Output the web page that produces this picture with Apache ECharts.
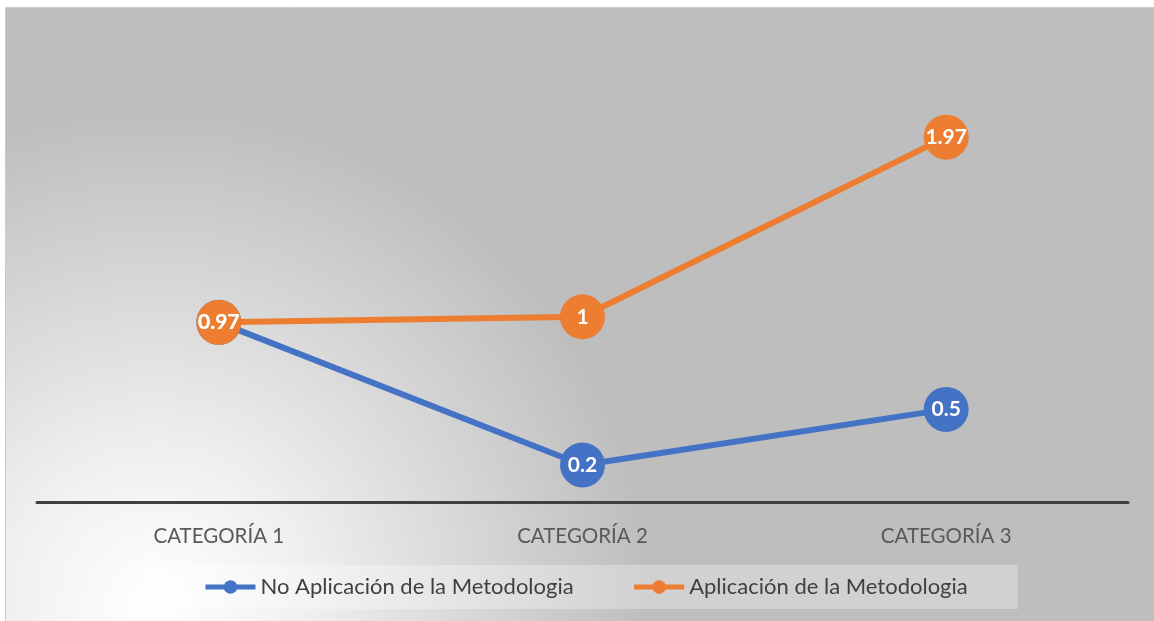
<!DOCTYPE html>
<html>
<head>
<meta charset="utf-8">
<script src="https://cdn.jsdelivr.net/npm/echarts@6/dist/echarts.min.js"></script>
<style>
  html, body { margin: 0; padding: 0; background: #ffffff; }
  #chart { width: 1154px; height: 621px; }
</style>
</head>
<body>
<div id="chart"></div>
<script>
let categories = ['CATEGORÍA 1', 'CATEGORÍA 2', 'CATEGORÍA 3'];
let noAplicacion = [0.97, 0.2, 0.5];
let aplicacion = [0.97, 1, 1.97];
let seriesNames = ['No Aplicación de la Metodologia', 'Aplicación de la Metodologia'];

let fontName = 'Lato, "Open Sans", sans-serif';

function lineSeries(name, data, color) {
    return {
        name: name,
        type: 'line',
        data: data,
        symbol: 'circle',
        symbolSize: 45,
        lineStyle: { color: color, width: 6 },
        itemStyle: { color: color },
        label: {
            show: true,
            position: 'inside',
            color: '#ffffff',
            fontWeight: 'bold',
            fontSize: 21,
            fontFamily: fontName
        },
        emphasis: { disabled: true },
        animation: false
    };
}

let option = {
    graphic: [
        {
            type: 'rect',
            left: 5,
            top: 7,
            z: -10,
            shape: { width: 1149, height: 614 },
            style: {
                fill: new echarts.graphic.RadialGradient(0.13, 0.97, 0.8, [
                    { offset: 0, color: '#ffffff' },
                    { offset: 0.3, color: '#f0f0f0' },
                    { offset: 1, color: '#bebebe' }
                ]),
                stroke: '#cccccc',
                lineWidth: 1
            }
        }
    ],
    legend: {
        left: 145,
        top: 565,
        padding: [11, 50, 11, 58],
        itemGap: 58,
        itemWidth: 50,
        itemHeight: 17,
        lineStyle: { width: 5 },
        backgroundColor: 'rgba(255,255,255,0.3)',
        textStyle: { color: '#404040', fontSize: 22, fontFamily: fontName },
        data: seriesNames
    },
    grid: { left: 37, right: 26, top: 39, bottom: 119 },
    xAxis: {
        type: 'category',
        data: categories,
        boundaryGap: true,
        axisLine: { lineStyle: { color: '#404040', width: 3 } },
        axisTick: { show: false },
        axisLabel: { color: '#595959', fontSize: 20.5, margin: 24, fontFamily: fontName }
    },
    yAxis: {
        type: 'value',
        min: 0,
        max: 2.5,
        show: false,
        splitLine: { show: false }
    },
    series: [
        lineSeries(seriesNames[0], noAplicacion, '#4472C4'),
        lineSeries(seriesNames[1], aplicacion, '#ED7D31')
    ]
};

let chart = echarts.init(document.getElementById('chart'));
chart.setOption(option);
</script>
</body>
</html>
